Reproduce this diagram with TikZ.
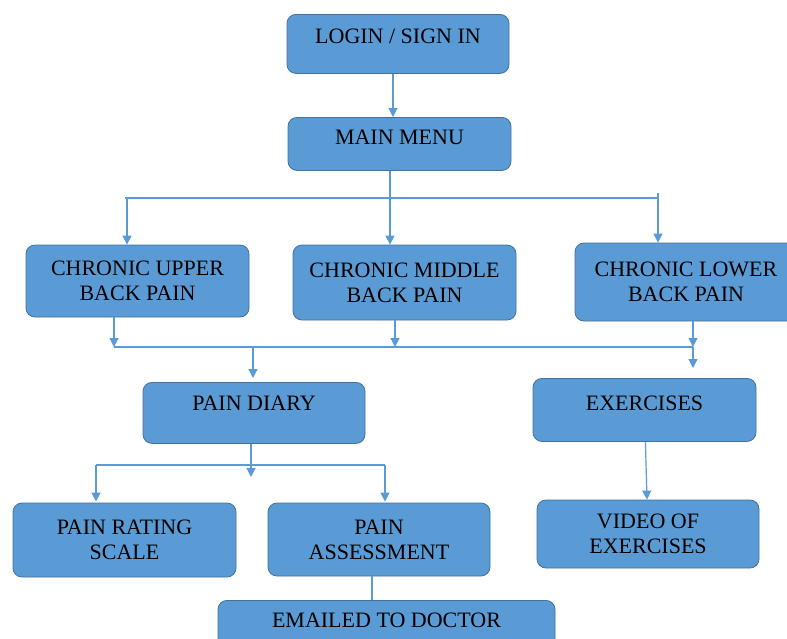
\documentclass[tikz,border=0pt]{standalone}
\usepackage{fontspec}
\setmainfont{Liberation Serif}
\usepackage{xcolor}
\usepackage{tikz}
\usetikzlibrary{calc}
\usetikzlibrary{arrows.meta,positioning}
\definecolor{boxblue}{HTML}{5B9BD5}
\definecolor{boxedge}{HTML}{41719C}
\definecolor{linkblue}{HTML}{5B9BD5}
\tikzset{
	box/.style={draw=boxedge,fill=boxblue,line width=0.8pt,rounded corners=9pt,
		inner xsep=0pt,inner ysep=0pt,align=center,text=black,
		font=\fontsize{22}{25}\selectfont},
	link/.style={draw=linkblue,line width=1.2pt},
	arr/.style={link,-{Triangle[width=9pt,length=9pt]}}
}

\begin{document}
\begin{tikzpicture}[x=1pt,y=-1pt]
		\clip (0,0) rectangle (787,638);
		% one-line boxes
		\node[box,anchor=north,minimum width=222pt,text height=29.3pt,text depth=29.7pt] (login) at (398,14) {LOGIN / SIGN IN};
		\node[box,anchor=north,minimum width=223pt,text height=27.3pt,text depth=25.7pt] (mainmenu) at (399.5,117) {MAIN MENU};
		% back pain boxes
		\node[box,minimum width=223pt,minimum height=72pt] (upper) at (137.5,281) {CHRONIC UPPER\\BACK PAIN};
		\node[box,minimum width=223pt,minimum height=75pt] (middle) at (404.5,282.5) {CHRONIC MIDDLE\\BACK PAIN};
		\node[box,minimum width=222pt,minimum height=78pt] (lower) at (686,282) {CHRONIC LOWER\\BACK PAIN};
		% diary and exercises
		\node[box,anchor=north,minimum width=222pt,text height=28.3pt,text depth=32.7pt] (diary) at (254,382) {PAIN DIARY};
		\node[box,anchor=north,minimum width=223pt,text height=32.3pt,text depth=30.7pt] (exercises) at (644.5,378) {EXERCISES};
		\node[box,minimum width=223pt,minimum height=74pt] (rating) at (124.5,540) {PAIN RATING\\SCALE};
		\node[box,minimum width=222pt,minimum height=73pt] (assess) at (379,539.5) {PAIN\\ASSESSMENT};
		\node[box,minimum width=222pt,minimum height=68pt] (video) at (648,534) {VIDEO OF\\EXERCISES};
		\node[box,anchor=north,minimum width=337pt,text height=27.3pt,text depth=28pt] (emailed) at (386.5,600) {EMAILED TO DOCTOR};
		
		% junction points
		\coordinate (ltop) at (393,0);
		\coordinate (mtop) at (390,199);
		\coordinate (bleft) at (125,198);
		\coordinate (bright) at (658,198);
		\coordinate (cleft) at (114,347);
		\coordinate (cmid) at (395,347);
		\coordinate (cright) at (693,347);
		\coordinate (cdiary) at (253,347);
		\coordinate (dleft) at (96,465);
		\coordinate (dright) at (385,465);
		\coordinate (dmid) at (251,477);
		\coordinate (etop) at (372,0);
		
		\draw[arr] (ltop |- login.south) -- (ltop |- mainmenu.north);
		\draw[link] (mtop |- mainmenu.south) -- (mtop);
		\draw[link] (bleft) -- (bright);
		\draw[arr] (bleft) ++(2,0) -- (upper.north -| 127,0);
		\draw[arr] (mtop) -- (mtop |- middle.north);
		\draw[arr] (bright) ++(0,-5) -- (bright |- lower.north);
		
		\draw[arr] (cleft |- upper.south) -- (cleft);
		\draw[arr] (cmid |- middle.south) -- (cmid);
		\draw[arr] (cright |- lower.south) -- (cright);
		\draw[link] (cleft) -- (cright);
		\draw[arr,shorten >=10pt] (cright) -- (cright |- exercises.north);
		\draw[arr,shorten >=4pt] (cdiary) -- (cdiary |- diary.north);
		
		\draw[arr] (dmid |- diary.south) -- (dmid);
		\draw[link] (dleft) -- (dright);
		\draw[arr,shorten >=1pt] (dleft) -- (dleft |- rating.north);
		\draw[arr,shorten >=1pt] (dright) -- (dright |- assess.north);
		\draw[link] (etop |- assess.south) -- (etop |- emailed.north);
		
		\draw[arr] (exercises) -- (video);
\end{tikzpicture}
\end{document}
